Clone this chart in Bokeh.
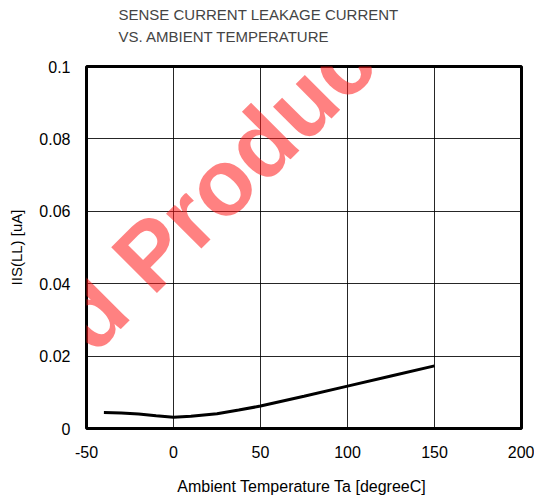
from bokeh.plotting import figure
from bokeh.models import FixedTicker, NumeralTickFormatter, Label
from bokeh.embed import file_html
from bokeh.resources import INLINE

# Data
temperature = [-40, -30, -20, -10, 0, 10, 25, 37.5, 50, 75, 100, 125, 150]
iis_ll = [0.0044, 0.0043, 0.0040, 0.0035, 0.0031, 0.0034, 0.0041, 0.0051, 0.0062, 0.0089, 0.0117, 0.0145, 0.0173]
x_ticks = [-50, 0, 50, 100, 150, 200]
y_ticks = [0, 0.02, 0.04, 0.06, 0.08, 0.1]

FONT = "Liberation Sans"

p = figure(width=534, height=502, x_range=(-50, 200), y_range=(0, 0.1),
           output_backend="svg", toolbar_location=None,
           min_border_left=86, min_border_right=13, min_border_top=66, min_border_bottom=74)

# trailing empty line lifts the two title lines away from the frame
p.title.text = "SENSE CURRENT LEAKAGE CURRENT\nVS. AMBIENT TEMPERATURE\n"
p.title.align = "left"
p.title.offset = 32
p.title.text_font = FONT
p.title.text_font_size = "15px"
p.title.text_font_style = "normal"
p.title.text_line_height = 1.28
p.title.standoff = 0

p.line(temperature, iis_ll, line_color="black", line_width=3)

p.xaxis.ticker = FixedTicker(ticks=x_ticks)
p.xaxis.major_label_overrides = {-50: "-50"}
p.yaxis.ticker = FixedTicker(ticks=y_ticks)
p.yaxis.formatter = NumeralTickFormatter(format="0.[00]")

for ax in (p.xaxis[0], p.yaxis[0]):
    ax.axis_line_color = None
    ax.major_tick_line_color = None
    ax.minor_tick_line_color = None
    ax.major_tick_in = 0
    ax.major_tick_out = 0
    ax.major_label_text_font = FONT
    ax.major_label_text_font_size = "16px"
    ax.major_label_text_color = "black"
    ax.axis_label_text_font = FONT
    ax.axis_label_text_font_style = "normal"
    ax.axis_label_text_color = "black"

p.xaxis.axis_label = "Ambient Temperature  Ta [degreeC]"
p.xaxis.axis_label_text_font_size = "16px"
p.xaxis.major_label_standoff = 17
p.xaxis.axis_label_standoff = 17
p.yaxis.axis_label = "IIS(LL) [uA]"
p.yaxis.axis_label_text_font_size = "15px"
p.yaxis.major_label_standoff = 16
p.yaxis.axis_label_standoff = 11

p.xgrid.ticker = FixedTicker(ticks=x_ticks)
p.ygrid.ticker = FixedTicker(ticks=y_ticks)
p.grid.grid_line_color = "black"
p.grid.grid_line_width = 1
p.grid.grid_line_alpha = 0.85

p.outline_line_color = "black"
p.outline_line_width = 3
p.outline_line_alpha = 1.0

wm = Label(x=-101.7, y=0.0058, text="ced Product",
           angle=45, angle_units="deg",
           text_font=FONT, text_font_size="94px", text_font_style="bold",
           text_color="#ff1a1a", text_alpha=0.55, text_align="left", text_baseline="alphabetic")
p.add_layout(wm)

open("out.html", "w").write(file_html(p, INLINE))
